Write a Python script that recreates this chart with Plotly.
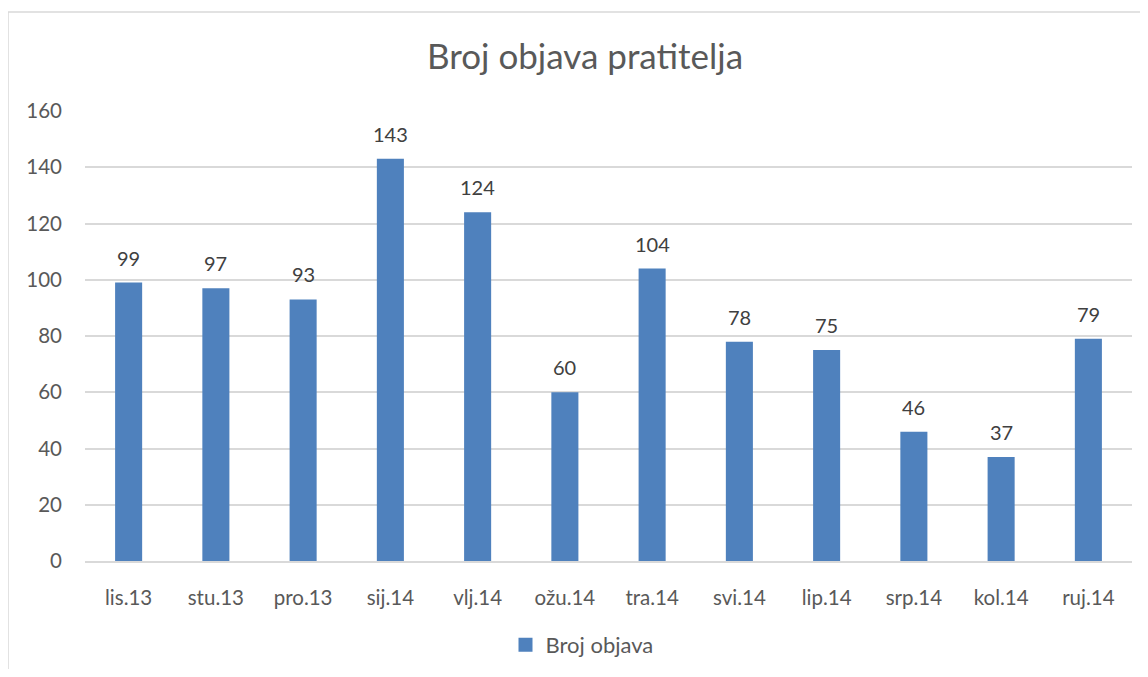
import plotly.graph_objects as go

categories = ["lis.13", "stu.13", "pro.13", "sij.14", "vlj.14", "ožu.14",
              "tra.14", "svi.14", "lip.14", "srp.14", "kol.14", "ruj.14"]
values = [99, 97, 93, 143, 124, 60, 104, 78, 75, 46, 37, 79]
series_name = "Broj objava"
title_text = "Broj objava pratitelja"
y_ticks = [0, 20, 40, 60, 80, 100, 120, 140, 160]

FONT = "Lato, Open Sans, sans-serif"
OFF = 8  # page body margin
W, H = 1148 - 2 * OFF, 677 - 2 * OFF
L, R, T, B = 85 - OFF, 16 - OFF, 111 - OFF, 116 - OFF
pw = W - L - R
ph = H - T - B

fig = go.Figure()
fig.add_trace(go.Bar(
    x=categories, y=values, name=series_name, showlegend=False,
    marker=dict(color="#4F81BD", line=dict(width=0)),
))
fig.add_trace(go.Scatter(
    x=[None], y=[None], mode="markers", name=series_name, showlegend=True,
    marker=dict(symbol="square", size=14, color="#4F81BD"),
))
for c, v in zip(categories, values):
    fig.add_annotation(x=c, y=v, text=str(v), showarrow=False,
                       yanchor="bottom", yshift=11,
                       font=dict(family=FONT, size=20, color="#404040"))

fig.add_shape(type="rect", xref="paper", yref="paper",
              x0=(8 - OFF - L) / pw, x1=(W + 30 - L) / pw,
              y0=-(H + 30 - T - ph) / ph, y1=1 + (T - (12 - OFF)) / ph,
              line=dict(color="#D9D9D9", width=1.5), layer="below")

fig.update_layout(
    width=W, height=H,
    margin=dict(l=L, r=R, t=T, b=B),
    paper_bgcolor="white", plot_bgcolor="white",
    bargap=0.69,
    title=dict(text=title_text, x=(585 - OFF) / W, xref="container", xanchor="center",
               y=1 - (57 - OFF) / H, yanchor="middle",
               font=dict(family=FONT, size=35, color="#595959")),
    showlegend=True,
    legend=dict(orientation="h", xref="container", x=(582 - OFF) / W, xanchor="center",
                yref="container", y=1 - (645 - OFF) / H, yanchor="middle",
                font=dict(family=FONT, size=22, color="#595959"),
                itemwidth=30),
    xaxis=dict(showgrid=False, showline=True, linecolor="#D9D9D9", linewidth=1.5,
               ticks="", ticklabelstandoff=18,
               tickfont=dict(family=FONT, size=20.5, color="#595959")),
    yaxis=dict(range=[0, 160], tickvals=y_ticks, showgrid=True,
               gridcolor="#D9D9D9", gridwidth=1.5, zeroline=False,
               showline=False, ticks="", ticklabelstandoff=22,
               tickfont=dict(family=FONT, size=20.5, color="#595959")),
)

fig.write_html("out.html")
